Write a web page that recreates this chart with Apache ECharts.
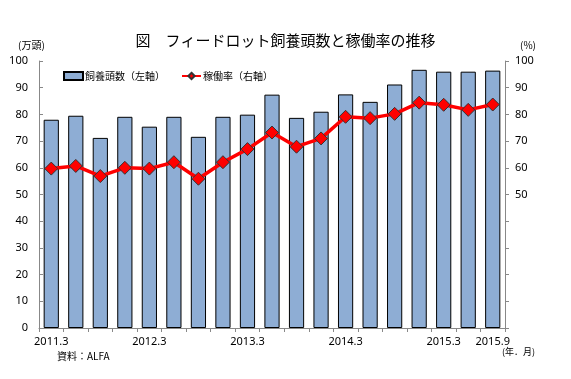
<!DOCTYPE html>
<html><head><meta charset="utf-8">
<script src="https://cdn.jsdelivr.net/npm/echarts@6/dist/echarts.min.js"></script>
<style>html,body{margin:0;padding:0;background:#fff}#c{width:571px;height:379px}</style>
</head><body><div id="c"></div>
<script>
const categories = ['2011.3','2011.6','2011.9','2011.12','2012.3','2012.6','2012.9','2012.12','2013.3','2013.6','2013.9','2013.12','2014.3','2014.6','2014.9','2014.12','2015.3','2015.6','2015.9'];
const headCount = [78.0,79.5,71.2,79.1,75.4,79.1,71.6,79.1,79.9,87.4,78.7,81.0,87.5,84.7,91.2,96.7,96.0,96.0,96.4];
const operatingRate = [59.7,60.7,56.9,60.0,59.7,62.1,55.9,62.1,67.0,73.2,67.9,71.0,79.1,78.6,80.2,84.4,83.6,81.7,83.7];
const labelIndices = [0,4,8,12,16,18];
const leftTicks = {min:0,max:100,interval:10};
const rightTicks = {min:0,max:100,interval:10,labelFrom:50};

const jp = '"Noto Sans CJK JP", "Noto Sans", sans-serif';
const num = '"Noto Sans", "DejaVu Sans", sans-serif';
const chart = echarts.init(document.getElementById('c'), null, {renderer:'canvas'});
chart.setOption({
  animation:false,
  backgroundColor:'#fff',
  grid:{left:39,right:66,top:61,bottom:51,containLabel:false},
  legend:{
    left:63, top:71, padding:0, itemGap:16, itemWidth:19, itemHeight:8,
    textStyle:{fontFamily:jp,fontSize:10,color:'#000',padding:[0,0,0,-3]},
    data:[{name:'飼養頭数（左軸）',icon:'rect'},{name:'稼働率（右軸）'}]
  },
  xAxis:{
    type:'category', data:categories, boundaryGap:true,
    axisLine:{lineStyle:{color:'#888',width:1}},
    axisTick:{show:true,interval:0,length:4,lineStyle:{color:'#888'}},
    axisLabel:{interval:(i)=>labelIndices.includes(i),color:'#000',fontFamily:num,fontSize:11,margin:8},
    splitLine:{show:false}
  },
  yAxis:[
    {type:'value',min:leftTicks.min,max:leftTicks.max,interval:leftTicks.interval,position:'left',
     axisLine:{show:true,lineStyle:{color:'#888'}},
     axisTick:{show:true,inside:true,length:4,lineStyle:{color:'#888'}},
     axisLabel:{color:'#000',fontFamily:num,fontSize:11,margin:11},
     splitLine:{show:false}},
    {type:'value',min:rightTicks.min,max:rightTicks.max,interval:rightTicks.interval,position:'right',
     axisLine:{show:true,lineStyle:{color:'#888'}},
     axisTick:{show:true,inside:false,length:4,lineStyle:{color:'#888'}},
     axisLabel:{color:'#000',fontFamily:num,fontSize:11,margin:10,
       formatter:(v)=> v>=rightTicks.labelFrom ? String(v) : ''},
     splitLine:{show:false}}
  ],
  series:[
    {name:'飼養頭数（左軸）',type:'bar',yAxisIndex:0,data:headCount,barWidth:'62%',
     itemStyle:{color:'#8EADD4',borderColor:'#000',borderWidth:1}},
    {name:'稼働率（右軸）',type:'line',yAxisIndex:1,data:operatingRate,
     symbol:'diamond',symbolSize:13,
     lineStyle:{color:'#ff0000',width:3.5},
     itemStyle:{color:'#ff0000',borderColor:'#333',borderWidth:1}}
  ],
  graphic:[
    {type:'text',left:'center',top:33,style:{text:'図　フィードロット飼養頭数と稼働率の推移',fontFamily:jp,fontSize:15,fill:'#000'}},
    {type:'text',left:18,top:40,style:{text:'(万頭)',fontFamily:jp,fontSize:10,fill:'#000'}},
    {type:'text',left:520,top:40,style:{text:'(%)',fontFamily:jp,fontSize:10,fill:'#000'}},
    {type:'text',left:57,top:351,style:{text:'資料：ALFA',fontFamily:jp,fontSize:10,fill:'#000'}},
    {type:'text',left:502,top:347,style:{text:'(年．月)',fontFamily:jp,fontSize:9,fill:'#000'}}
  ]
});
</script></body></html>
